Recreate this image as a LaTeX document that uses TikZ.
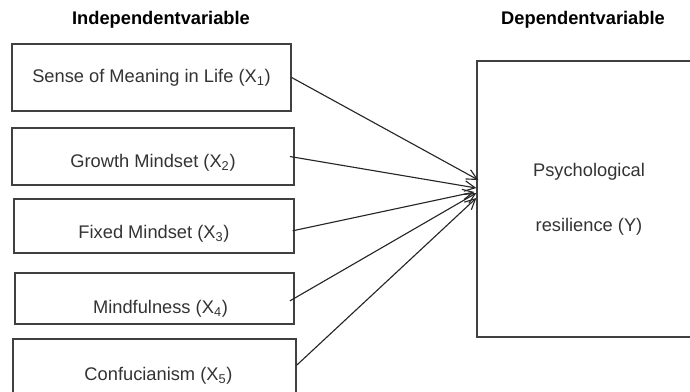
\documentclass[tikz,border=0pt]{standalone}
\usepackage{fontspec}
\setmainfont{Liberation Sans}
\usetikzlibrary{arrows.meta}

\tikzset{
  varbox/.style={draw=black!75, line width=0.9pt, inner sep=0pt, text=black!80,
    font=\fontsize{13}{15}\selectfont, align=center},
  heading/.style={font=\fontsize{13}{15}\selectfont\bfseries, text=black},
  link/.style={draw=black!85, line width=0.8pt, -{Straight Barb[length=2.6mm,width=2.6mm]}}
}

\begin{document}
\begin{tikzpicture}[x=0.025cm, y=-0.025cm]
\useasboundingbox (0,0) rectangle (690,391);
% The headings over both columns
\node[heading] (indep) at (161,20) {Independentvariable};
\node[heading] (dep) at (583,20) {Dependentvariable};
% Left column: the five predictors
\node[varbox, minimum width=6.975cm, minimum height=1.675cm] (x1) at (151.5,77.5) {Sense of Meaning in Life (X\textsubscript{1})};
\node[varbox, minimum width=7.05cm, minimum height=1.425cm, text height=0.62cm] (x2) at (153,156.5) {Growth Mindset (X\textsubscript{2})};
\node[varbox, minimum width=7cm, minimum height=1.35cm, text height=0.7cm] (x3) at (154,226) {Fixed Mindset (X\textsubscript{3})};
\node[varbox, minimum width=6.975cm, minimum height=1.275cm, text height=0.85cm] (x4) at (154.5,298.5) {\hspace{0.3cm}Mindfulness (X\textsubscript{4})};
\node[varbox, minimum width=7.075cm, minimum height=1.45cm, text height=0.7cm] (x5) at (154.5,368) {\hspace{0.2cm}Confucianism (X\textsubscript{5})};
% Right column: the outcome, its box runs past the page edge
\node[varbox, minimum width=5.6cm, minimum height=6.9cm] (y) at (589,199) {Psychological\\[0.85cm]resilience (Y)};
% Paths from each predictor into the outcome
\draw[link] (x1.east) -- ([xshift=0.05cm,yshift=0.475cm]y.west);
\draw[link] ([xshift=-0.12cm]x2.east) -- ([yshift=0.275cm]y.west);
\draw[link] ([xshift=-0.05cm,yshift=-0.12cm]x3.east) -- ([xshift=-0.05cm,yshift=0.175cm]y.west);
\draw[link] ([xshift=-0.12cm,yshift=-0.06cm]x4.east) -- ([yshift=0.15cm]y.west);
\draw[link] ([yshift=0.07cm]x5.east) -- ([yshift=0.025cm]y.west);
\end{tikzpicture}
\end{document}
